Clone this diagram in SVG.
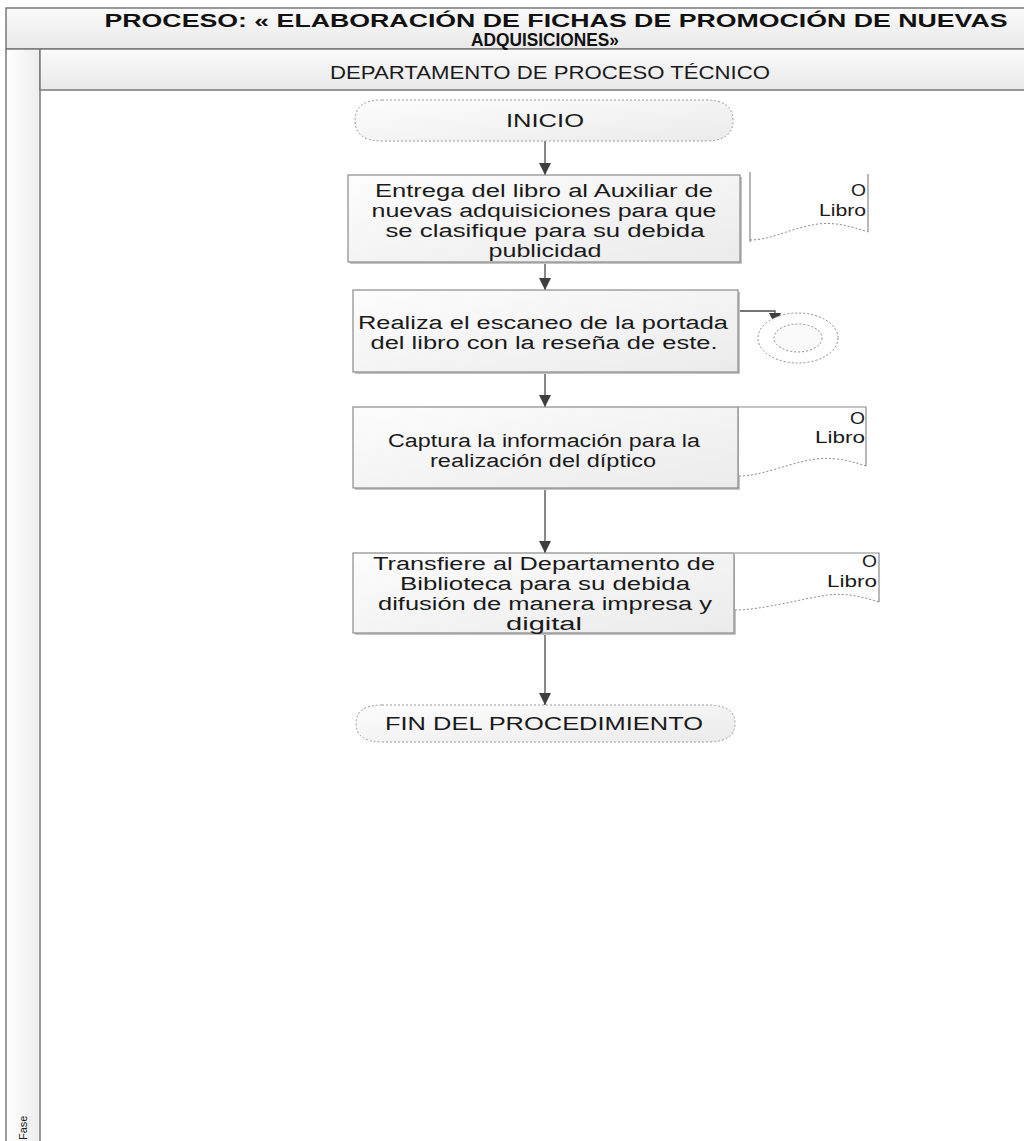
<svg xmlns="http://www.w3.org/2000/svg" width="1024" height="1141" viewBox="0 0 1024 1141">
  <defs>
    <linearGradient id="barFill" x1="0" y1="0" x2="0" y2="1">
      <stop offset="0" stop-color="#fafafa"/>
      <stop offset="1" stop-color="#e9e9e9"/>
    </linearGradient>
    <linearGradient id="boxFill" x1="0" y1="0" x2="1" y2="1">
      <stop offset="0" stop-color="#fdfdfd"/>
      <stop offset="1" stop-color="#ebebeb"/>
    </linearGradient>
    <linearGradient id="colFill" x1="0" y1="0" x2="1" y2="0">
      <stop offset="0" stop-color="#ffffff"/>
      <stop offset="1" stop-color="#ededed"/>
    </linearGradient>
    <marker id="arrow" viewBox="0 0 12 12" refX="12" refY="6" markerWidth="12" markerHeight="12" markerUnits="userSpaceOnUse" orient="auto">
      <path d="M0,0 L12,6 L0,12 z" fill="#3f3f3f"/>
    </marker>
  </defs>
  <style>
    .frame { stroke: #7a7a7a; stroke-width: 1.5; }
    .box { fill: url(#boxFill); stroke: #8a8a8a; stroke-width: 1.2; }
    .shadow { fill: #c4c4c4; }
    .term { fill: url(#boxFill); stroke: #9a9a9a; stroke-width: 1; stroke-dasharray: 2 2; }
    .doc { fill: #ffffff; stroke: none; }
    .docside { fill: none; stroke: #8a8a8a; stroke-width: 1.2; }
    .wave { fill: none; stroke: #8a8a8a; stroke-width: 1; stroke-dasharray: 2 2; }
    .conn { fill: none; stroke: #4a4a4a; stroke-width: 1.3; marker-end: url(#arrow); }
    text { font-family: "Liberation Sans", Arial, sans-serif; fill: #1a1a1a; }
    .t { font-size: 18px; text-anchor: middle; }
    .title { font-size: 19px; font-weight: bold; text-anchor: middle; fill: #111; }
    .lane { font-size: 19px; text-anchor: middle; }
    .dl { font-size: 16px; text-anchor: end; }
  </style>

  <!-- pool frame -->
  <g id="pool">
    <rect x="6" y="8" width="1030" height="41" fill="url(#barFill)" class="frame"/>
    <rect x="6" y="49" width="34" height="1110" fill="url(#colFill)" class="frame"/>
    <rect x="40" y="49" width="996" height="41" fill="url(#barFill)" class="frame"/>
    <text class="title" x="556" y="27" textLength="903" lengthAdjust="spacingAndGlyphs">PROCESO: « ELABORACIÓN DE FICHAS DE PROMOCIÓN DE NUEVAS</text>
    <text class="title" x="545" y="46" textLength="148" lengthAdjust="spacingAndGlyphs">ADQUISICIONES»</text>
    <text class="lane" x="550" y="79" textLength="440" lengthAdjust="spacingAndGlyphs">DEPARTAMENTO DE PROCESO TÉCNICO</text>
    <text x="27" y="1140" font-size="11" transform="rotate(-90 27 1140)">Fase</text>
  </g>

  <!-- connectors -->
  <g id="connectors">
    <path class="conn" d="M545,141 V175"/>
    <path class="conn" d="M545,263 V290"/>
    <path class="conn" d="M545,373 V407"/>
    <path class="conn" d="M545,489 V553"/>
    <path class="conn" d="M545,634 V705"/>
    <path class="conn" d="M738,311 H775 V325"/>
  </g>

  <!-- start -->
  <g id="inicio">
    <path class="term" d="M382,100 H706 Q733,100 733,120.5 Q733,141 706,141 H382 Q355,141 355,120.5 Q355,100 382,100 Z"/>
    <text class="t" x="545" y="127" textLength="78" lengthAdjust="spacingAndGlyphs">INICIO</text>
  </g>

  <!-- step 1 -->
  <g id="paso1">
    <rect class="shadow" x="350" y="177" width="392" height="87"/>
    <rect class="box" x="348" y="175" width="392" height="87"/>
    <text class="t" x="544" y="197" textLength="338" lengthAdjust="spacingAndGlyphs">Entrega del libro al Auxiliar de</text>
    <text class="t" x="544" y="217" textLength="345" lengthAdjust="spacingAndGlyphs">nuevas adquisiciones para que</text>
    <text class="t" x="545" y="237" textLength="319" lengthAdjust="spacingAndGlyphs">se clasifique para su debida</text>
    <text class="t" x="545" y="257" textLength="113" lengthAdjust="spacingAndGlyphs">publicidad</text>
  </g>

  <!-- document 1 -->
  <g id="doc1">
    <path class="doc" d="M750,174 H868 V232 C850,226 835,222 818,224 C790,228 772,240 750,240 Z"/>
    <path class="docside" d="M750,172 V242 M868,174 V232"/>
    <path class="wave" d="M750,240 C772,240 790,228 818,224 C835,222 850,226 868,232"/>
    <text class="dl" x="866" y="196" textLength="15" lengthAdjust="spacingAndGlyphs">O</text>
    <text class="dl" x="866" y="216" textLength="47" lengthAdjust="spacingAndGlyphs">Libro</text>
  </g>

  <!-- step 2 -->
  <g id="paso2">
    <rect class="shadow" x="355" y="292" width="385" height="82"/>
    <rect class="box" x="353" y="290" width="385" height="82"/>
    <text class="t" x="543" y="329" textLength="370" lengthAdjust="spacingAndGlyphs">Realiza el escaneo de la portada</text>
    <text class="t" x="544" y="349" textLength="347" lengthAdjust="spacingAndGlyphs">del libro con la reseña de este.</text>
  </g>

  <!-- archive -->
  <g id="archivo">
    <ellipse cx="798" cy="338" rx="40" ry="25" fill="#ffffff" stroke="#8a8a8a" stroke-width="1" stroke-dasharray="2 2"/>
    <ellipse cx="798" cy="338" rx="24" ry="14" fill="#fafafa" stroke="#8a8a8a" stroke-width="1" stroke-dasharray="2 2"/>
  </g>

  <!-- step 3 -->
  <g id="paso3">
    <rect class="shadow" x="355" y="409" width="385" height="81"/>
    <rect class="box" x="353" y="407" width="385" height="81"/>
    <text class="t" x="544" y="447" textLength="312" lengthAdjust="spacingAndGlyphs">Captura la información para la</text>
    <text class="t" x="543" y="467" textLength="226" lengthAdjust="spacingAndGlyphs">realización del díptico</text>
  </g>

  <!-- document 3 -->
  <g id="doc3">
    <path class="doc" d="M739,407 H866 V466 C848,460 833,457 816,459 C788,463 762,476 739,476 Z"/>
    <path class="docside" d="M738,407 H866 V466"/>
    <path class="wave" d="M739,476 C762,476 788,463 816,459 C833,457 848,460 866,466"/>
    <text class="dl" x="865" y="424" textLength="15" lengthAdjust="spacingAndGlyphs">O</text>
    <text class="dl" x="865" y="443" textLength="50" lengthAdjust="spacingAndGlyphs">Libro</text>
  </g>

  <!-- step 4 -->
  <g id="paso4">
    <rect class="shadow" x="355" y="555" width="381" height="80"/>
    <rect class="box" x="353" y="553" width="381" height="80"/>
    <text class="t" x="544" y="570" textLength="342" lengthAdjust="spacingAndGlyphs">Transfiere al Departamento de</text>
    <text class="t" x="545" y="590" textLength="290" lengthAdjust="spacingAndGlyphs">Biblioteca para su debida</text>
    <text class="t" x="545" y="610" textLength="334" lengthAdjust="spacingAndGlyphs">difusión de manera impresa y</text>
    <text class="t" x="544" y="630" textLength="76" lengthAdjust="spacingAndGlyphs">digital</text>
  </g>

  <!-- document 4 -->
  <g id="doc4">
    <path class="doc" d="M735,553 H879 V602 C860,596 845,593 828,595 C800,599 762,610 735,610 Z"/>
    <path class="docside" d="M735,553 H879 V602"/>
    <path class="wave" d="M735,610 C762,610 800,599 828,595 C845,593 860,596 879,602"/>
    <text class="dl" x="877" y="567" textLength="15" lengthAdjust="spacingAndGlyphs">O</text>
    <text class="dl" x="877" y="587" textLength="50" lengthAdjust="spacingAndGlyphs">Libro</text>
  </g>

  <!-- end -->
  <g id="fin">
    <path class="term" d="M382,705 H708 Q735,705 735,723.5 Q735,742 708,742 H382 Q356,742 356,723.5 Q356,705 382,705 Z"/>
    <text class="t" x="544" y="730" textLength="318" lengthAdjust="spacingAndGlyphs">FIN DEL PROCEDIMIENTO</text>
  </g>
</svg>
